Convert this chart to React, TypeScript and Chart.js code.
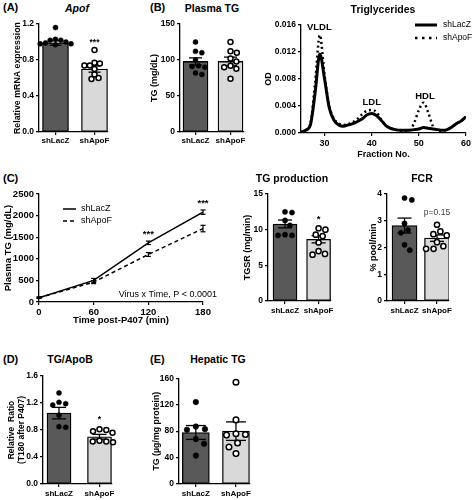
import React, { useEffect, useRef } from "react";
import { Chart, registerables } from "chart.js";
Chart.register(...registerables);

const FONT = "'Liberation Sans', Arial, Helvetica, sans-serif";
const DARK = "#595959";
const LIGHT = "#d9d9d9";

const groups = ["shLacZ", "shApoF"];

// (A) Apof mRNA
const apofMeans = [0.99, 0.7];
const apofSems = [0.025, 0.035];
const apofLacZ = [1.16, 1.03, 1.02, 1.02, 1.0, 0.99, 0.98, 0.98, 0.97];
const apofApoF = [0.91, 0.77, 0.76, 0.74, 0.74, 0.7, 0.64, 0.6, 0.59];

// (B) Plasma TG
const ptgMeans = [98, 98];
const ptgSems = [5, 6];
const ptgLacZ = [125, 112, 110, 100, 92, 91, 90, 82, 80];
const ptgApoF = [125, 112, 110, 102, 98, 92, 90, 88, 74];

// (B) Triglycerides FPLC
const fractions = [25, 26, 27, 28, 29, 30, 31, 32, 33, 34, 35, 36, 37, 38, 39, 40, 41, 42, 43, 44, 45, 46, 47, 48, 49, 50, 51, 52, 53, 54, 55, 56, 57, 58, 59, 60];
const fplcLacZ = [0.0001, 0.0004, 0.0012, 0.006, 0.0117, 0.008, 0.0037, 0.0019, 0.0012, 0.001, 0.0012, 0.0014, 0.0017, 0.0021, 0.0027, 0.0029, 0.0026, 0.0019, 0.0011, 0.0007, 0.0005, 0.0004, 0.0004, 0.0004, 0.0005, 0.0006, 0.0008, 0.0007, 0.0006, 0.0005, 0.0004, 0.0005, 0.0009, 0.0014, 0.0018, 0.0024];
const fplcApoF = [0.0001, 0.0004, 0.0014, 0.0075, 0.0145, 0.0085, 0.004, 0.0021, 0.0014, 0.0012, 0.0013, 0.0016, 0.0021, 0.0028, 0.0033, 0.0034, 0.0031, 0.002, 0.0011, 0.0007, 0.0005, 0.0003, 0.0002, 0.0003, 0.0015, 0.0034, 0.0045, 0.003, 0.001, 0.0004, 0.0003, 0.0005, 0.0009, 0.0014, 0.0018, 0.0024];

// (C) Plasma TG after P407
const timePoints = [0, 60, 120, 180];
const tgTimeLacZ = [100, 500, 1370, 2080];
const tgTimeLacZSem = [15, 45, 40, 50];
const tgTimeApoF = [100, 460, 1100, 1700];
const tgTimeApoFSem = [15, 35, 45, 75];

// TG production
const tgprodMeans = [10.8, 8.65];
const tgprodSems = [0.55, 0.5];
const tgprodLacZ = [12.5, 12.4, 11.3, 10.6, 9.3, 9.2, 9.2];
const tgprodApoF = [10.2, 10.0, 9.3, 9.1, 8.2, 7.0, 6.6, 6.5];

// FCR
const fcrMeans = [2.82, 2.35];
const fcrSems = [0.28, 0.12];
const fcrLacZ = [3.85, 3.78, 2.9, 2.65, 2.55, 2.1, 1.9];
const fcrApoF = [2.85, 2.6, 2.5, 2.45, 2.2, 2.05, 1.95, 1.95];

// (D) TG/ApoB
const tgapobMeans = [1.05, 0.7];
const tgapobSems = [0.085, 0.035];
const tgapobLacZ = [1.35, 1.21, 1.19, 1.17, 1.02, 0.85, 0.84];
const tgapobApoF = [0.81, 0.8, 0.78, 0.76, 0.64, 0.63, 0.63, 0.62];

// (E) Hepatic TG
const hepMeans = [78, 80];
const hepSems = [10.5, 14];
const hepLacZ = [124, 87, 83, 82, 68, 61, 43];
const hepApoF = [154, 97, 76, 75, 74, 62, 56, 46];

type Area = { L: number; T: number; R: number; B: number };
type Note = { text: string; x: number; y: number; size: number; weight?: string; color?: string; align?: CanvasTextAlign; dx?: number };

function swarm(values: number[], pxPerY: number, pxPerX: number, d: number): number[] {
  const placed: { x: number; y: number }[] = [];
  return values.map((v) => {
    const y = v * pxPerY;
    const cands = [0];
    placed.forEach((p) => {
      const dy = Math.abs(p.y - y);
      if (dy < d) {
        const dx = Math.sqrt(d * d - dy * dy) + 0.01;
        cands.push(p.x + dx, p.x - dx);
      }
    });
    cands.sort((a, b) => Math.abs(a) - Math.abs(b));
    let x = 0;
    for (const c of cands) {
      if (placed.every((p) => (p.x - c) ** 2 + (p.y - y) ** 2 >= d * d - 0.05)) {
        x = c;
        break;
      }
    }
    placed.push({ x, y });
    return x / pxPerX;
  });
}

function notesPlugin(items: Note[]) {
  return {
    id: "notes",
    afterDatasetsDraw(chart: any) {
      const ctx = chart.ctx;
      items.forEach((it) => {
        const px = chart.scales.x.getPixelForValue(it.x) + (it.dx || 0);
        const py = chart.scales.y.getPixelForValue(it.y);
        ctx.save();
        ctx.font = `${it.weight || "bold"} ${it.size}px ${FONT}`;
        ctx.fillStyle = it.color || "#000";
        ctx.textAlign = it.align || "center";
        ctx.textBaseline = "middle";
        ctx.fillText(it.text, px, py);
        ctx.restore();
      });
    },
  };
}

function legendPlugin(dx: number, dy: number, lineLen: number, gap: number, rowH: number, size: number, dashLen?: number[]) {
  return {
    id: "lineLegend",
    afterDraw(chart: any) {
      const ctx = chart.ctx;
      const { left, top } = chart.chartArea;
      chart.data.datasets
        .filter((ds: any) => ds.inLegend)
        .forEach((ds: any, i: number) => {
          const x0 = left + dx;
          const y = top + dy + i * rowH;
          ctx.save();
          ctx.strokeStyle = "#000";
          ctx.lineWidth = ds.borderWidth;
          ctx.setLineDash((dashLen && i > 0 ? dashLen : ds.borderDash) || []);
          ctx.beginPath();
          ctx.moveTo(x0, y);
          ctx.lineTo(x0 + lineLen, y);
          ctx.stroke();
          ctx.setLineDash([]);
          ctx.font = `normal ${size}px ${FONT}`;
          ctx.fillStyle = "#000";
          ctx.textBaseline = "middle";
          ctx.textAlign = "left";
          ctx.fillText(ds.label, x0 + lineLen + gap, y);
          ctx.restore();
        });
    },
  };
}

function axis(tickSize: number, extra: any = {}) {
  return {
    grid: { display: true, drawOnChartArea: false, drawTicks: true, tickLength: 3, color: "#000", lineWidth: 1.2 },
    border: { display: true, color: "#000", width: 1.3 },
    ...extra,
    ticks: { color: "#000", font: { family: FONT, size: tickSize, weight: "bold" }, padding: 2, autoSkip: false, maxRotation: 0, ...(extra.ticks || {}) },
  };
}

function axisTitle(text: string | string[], size: number) {
  return { display: true, text, color: "#000", font: { family: FONT, size, weight: "bold", lineHeight: 1.15 }, padding: 0 };
}

function errBar(x: number, m: number, s: number, cap: number, w = 1.3) {
  return {
    type: "line",
    data: [
      { x, y: m - s },
      { x, y: m + s },
    ],
    borderColor: "#000",
    borderWidth: w,
    pointStyle: "line",
    pointRadius: cap,
    pointHoverRadius: cap,
    pointBorderColor: "#000",
    pointBorderWidth: w,
    clip: false,
    order: 2,
  };
}

function ChartCanvas(props: { area: Area; yW: number; xH: number; padT?: number; padR?: number; make: () => any }) {
  const { area, yW, xH } = props;
  const padT = props.padT ?? 10;
  const padR = props.padR ?? 24;
  const ref = useRef<HTMLCanvasElement | null>(null);
  const left = area.L - yW;
  const top = area.T - padT;
  const width = area.R - area.L + yW + padR;
  const height = area.B - area.T + padT + xH;
  useEffect(() => {
    if (!ref.current) return;
    const cfg = props.make();
    cfg.options = cfg.options || {};
    Object.assign(cfg.options, {
      responsive: false,
      maintainAspectRatio: false,
      animation: false,
      devicePixelRatio: 1,
      events: [],
      layout: { padding: { left: 0, top: padT, right: padR, bottom: 0 } },
    });
    cfg.options.plugins = { ...(cfg.options.plugins || {}), legend: { display: false }, tooltip: { enabled: false }, title: { display: false } };
    cfg.options.scales.x.afterFit = (s: any) => {
      s.height = xH;
    };
    cfg.options.scales.y.afterFit = (s: any) => {
      s.width = yW;
    };
    const chart = new Chart(ref.current, cfg);
    return () => chart.destroy();
  }, []);
  return <canvas ref={ref} width={width} height={height} style={{ position: "absolute", left, top, width, height }} />;
}

type BarSpec = {
  area: Area;
  yW: number;
  xH: number;
  xMin: number;
  xMax: number;
  yMax: number;
  yStep: number;
  decimals: number;
  means: number[];
  sems: number[];
  pts: number[][];
  barW: number;
  cap: number;
  ptR: number;
  spread: number;
  yTitle: string | string[];
  yTitleSize: number;
  tickSize: number;
  catSize: number;
  catPad: number;
  notes: Note[];
};

function BarPanel({ spec }: { spec: BarSpec }) {
  const p = spec;
  const make = () => {
    const unit = (p.area.R - p.area.L) / (p.xMax - p.xMin);
    const pxY = (p.area.B - p.area.T) / p.yMax;
    const offs = p.pts.map((vals) => swarm(vals, pxY, unit, p.spread));
    const datasets: any[] = [
      {
        type: "bar",
        data: p.means.map((m, i) => ({ x: i, y: m })),
        backgroundColor: [DARK, LIGHT],
        borderColor: "#000",
        borderWidth: 1.3,
        borderSkipped: false,
        barThickness: p.barW,
        order: 3,
      },
    ];
    p.means.forEach((m, i) => datasets.push(errBar(i, m, p.sems[i], p.cap)));
    p.pts.forEach((vals, g) =>
      datasets.push({
        type: "scatter",
        data: vals.map((v, k) => ({ x: g + offs[g][k], y: v })),
        pointRadius: p.ptR,
        pointBackgroundColor: g === 0 ? "#000" : "#fff",
        pointBorderColor: "#000",
        pointBorderWidth: g === 0 ? 0.5 : 1.5,
        clip: false,
        order: 1,
      })
    );
    return {
      type: "bar",
      data: { datasets },
      plugins: [notesPlugin(p.notes)],
      options: {
        scales: {
          x: axis(p.catSize, {
            type: "linear",
            min: p.xMin,
            max: p.xMax,
            offset: false,
            grid: { display: true, drawOnChartArea: false, drawTicks: true, tickLength: 3, color: "#000", lineWidth: 1.2, offset: false },
            afterBuildTicks: (s: any) => {
              s.ticks = [{ value: 0 }, { value: 1 }];
            },
            ticks: { padding: p.catPad, callback: (v: number) => groups[v] },
          }),
          y: axis(p.tickSize, {
            min: 0,
            max: p.yMax,
            title: axisTitle(p.yTitle, p.yTitleSize),
            ticks: { stepSize: p.yStep, callback: (v: number) => v.toFixed(p.decimals) },
          }),
        },
      },
    };
  };
  return <ChartCanvas area={p.area} yW={p.yW} xH={p.xH} make={make} />;
}

function FplcPanel() {
  const make = () => ({
    type: "line",
    data: {
      datasets: [
        {
          label: "shLacZ",
          inLegend: true,
          data: fractions.map((f, i) => ({ x: f, y: fplcLacZ[i] })),
          borderColor: "#000",
          borderWidth: 3,
          pointRadius: 0,
          cubicInterpolationMode: "monotone",
        },
        {
          label: "shApoF",
          inLegend: true,
          data: fractions.map((f, i) => ({ x: f, y: fplcApoF[i] })),
          borderColor: "#000",
          borderWidth: 2.5,
          borderDash: [2, 3],
          pointRadius: 0,
          cubicInterpolationMode: "monotone",
        },
      ],
    },
    plugins: [
      notesPlugin([
        { text: "VLDL", x: 28.9, y: 0.0157, size: 9.5 },
        { text: "LDL", x: 40, y: 0.0046, size: 9.5 },
        { text: "HDL", x: 51.3, y: 0.0054, size: 9.5 },
      ]),
      legendPlugin(114, 0, 22, 6, 13, 8.5, [2.5, 4.5]),
    ],
    options: {
      scales: {
        x: axis(9, {
          type: "linear",
          min: 25,
          max: 60,
          afterBuildTicks: (s: any) => {
            s.ticks = s.ticks.filter((t: any) => t.value % 10 === 0);
          },
          ticks: { stepSize: 10 },
          title: axisTitle("Fraction No.", 9),
        }),
        y: axis(8.5, {
          min: 0,
          max: 0.016,
          ticks: { stepSize: 0.004, callback: (v: number) => v.toFixed(3) },
          title: axisTitle("OD", 9),
        }),
      },
    },
  });
  return <ChartCanvas area={{ L: 301, T: 25, R: 466, B: 133 }} yW={38} xH={27} padR={10} make={make} />;
}

function TimePanel() {
  const make = () => {
    const datasets: any[] = [
      {
        type: "line",
        label: "shLacZ",
        inLegend: true,
        data: timePoints.map((t, i) => ({ x: t, y: tgTimeLacZ[i] })),
        borderColor: "#000",
        borderWidth: 1.5,
        pointRadius: 0,
        order: 3,
      },
      {
        type: "line",
        label: "shApoF",
        inLegend: true,
        data: timePoints.map((t, i) => ({ x: t, y: tgTimeApoF[i] })),
        borderColor: "#000",
        borderWidth: 1.5,
        borderDash: [4, 3],
        pointRadius: 0,
        order: 3,
      },
    ];
    timePoints.forEach((t, i) => {
      datasets.push(errBar(t, tgTimeLacZ[i], tgTimeLacZSem[i], 2.5, 1.2));
      datasets.push(errBar(t, tgTimeApoF[i], tgTimeApoFSem[i], 2.5, 1.2));
    });
    return {
      type: "line",
      data: { datasets },
      plugins: [
        notesPlugin([
          { text: "***", x: 120, y: 1560, size: 9.5 },
          { text: "***", x: 180, y: 2280, size: 9.5 },
          { text: "Virus x Time, P < 0.0001", x: 180, y: 170, size: 9, weight: "normal", align: "right", dx: 14 },
        ]),
        legendPlugin(24, 15, 13, 5, 12, 9),
      ],
      options: {
        scales: {
          x: axis(9.5, {
            type: "linear",
            min: 0,
            max: 180,
            ticks: { stepSize: 60, callback: (v: number) => String(v) },
            title: axisTitle("Time post-P407 (min)", 9.5),
          }),
          y: axis(9.5, {
            min: 0,
            max: 2500,
            ticks: { stepSize: 500, callback: (v: number) => String(v) },
            title: axisTitle("Plasma TG (mg/dL)", 9.5),
          }),
        },
      },
    };
  };
  return <ChartCanvas area={{ L: 39, T: 194, R: 203, B: 302 }} yW={36} xH={24} padR={24} make={make} />;
}

const Label = ({ x, y, text, size, italic, left }: { x: number; y: number; text: string; size: number; italic?: boolean; left?: boolean }) => (
  <div
    style={{
      position: "absolute",
      left: x,
      top: y,
      transform: left ? "translate(0,-50%)" : "translate(-50%,-50%)",
      font: `${italic ? "italic " : ""}bold ${size}px ${FONT}`,
      whiteSpace: "nowrap",
      color: "#000",
      lineHeight: 1,
    }}
  >
    {text}
  </div>
);

const specA: BarSpec = {
  area: { L: 39, T: 24, R: 108, B: 132 },
  yW: 26, xH: 20, xMin: -0.423, xMax: 1.346, yMax: 1.2, yStep: 0.4, decimals: 1,
  means: apofMeans, sems: apofSems, pts: [apofLacZ, apofApoF],
  barW: 26, cap: 6, ptR: 2.5, spread: 5.4, yTitle: "Relative mRNA expression", yTitleSize: 8.8,
  tickSize: 8.5, catSize: 8, catPad: 1,
  notes: [{ text: "***", x: 1, y: 0.99, size: 8.5 }],
};
const specB: BarSpec = {
  area: { L: 180, T: 24, R: 244, B: 132 },
  yW: 31, xH: 20, xMin: -0.443, xMax: 1.386, yMax: 150, yStep: 50, decimals: 0,
  means: ptgMeans, sems: ptgSems, pts: [ptgLacZ, ptgApoF],
  barW: 25, cap: 6.5, ptR: 2.5, spread: 6.5, yTitle: "TG (mg/dL)", yTitleSize: 9,
  tickSize: 8.5, catSize: 8, catPad: 1,
  notes: [],
};
const specTGP: BarSpec = {
  area: { L: 268, T: 194, R: 331, B: 301 },
  yW: 26, xH: 20, xMin: -0.507, xMax: 1.37, yMax: 15, yStep: 5, decimals: 0,
  means: tgprodMeans, sems: tgprodSems, pts: [tgprodLacZ, tgprodApoF],
  barW: 24, cap: 7, ptR: 2.6, spread: 7, yTitle: "TGSR (mg/min)", yTitleSize: 9,
  tickSize: 8.5, catSize: 8, catPad: 2,
  notes: [{ text: "*", x: 1, y: 11.4, size: 9.5 }],
};
const specFCR: BarSpec = {
  area: { L: 387, T: 194, R: 449, B: 301 },
  yW: 19, xH: 20, xMin: -0.54, xMax: 1.37, yMax: 4, yStep: 1, decimals: 0,
  means: fcrMeans, sems: fcrSems, pts: [fcrLacZ, fcrApoF],
  barW: 25, cap: 7, ptR: 2.6, spread: 7.5, yTitle: "% pool/min", yTitleSize: 9,
  tickSize: 8.5, catSize: 8, catPad: 2,
  notes: [{ text: "p=0.15", x: 1, y: 3.3, size: 8.5, weight: "normal", color: "#444" }],
};
const specD: BarSpec = {
  area: { L: 43, T: 376, R: 112, B: 484 },
  yW: 36, xH: 16, xMin: -0.395, xMax: 1.309, yMax: 1.6, yStep: 0.4, decimals: 1,
  means: tgapobMeans, sems: tgapobSems, pts: [tgapobLacZ, tgapobApoF],
  barW: 24, cap: 7, ptR: 2.5, spread: 6.8, yTitle: ["Relative  Ratio", "(T180 after P407)"], yTitleSize: 8.5,
  tickSize: 8.5, catSize: 8, catPad: 2,
  notes: [{ text: "*", x: 1, y: 0.95, size: 8.5 }],
};
const specE: BarSpec = {
  area: { L: 179, T: 377, R: 250, B: 484 },
  yW: 27, xH: 16, xMin: -0.42, xMax: 1.35, yMax: 160, yStep: 40, decimals: 0,
  means: hepMeans, sems: hepSems, pts: [hepLacZ, hepApoF],
  barW: 27, cap: 10, ptR: 2.8, spread: 9.5, yTitle: "TG (µg/mg protein)", yTitleSize: 8.8,
  tickSize: 8.5, catSize: 8, catPad: 2,
  notes: [],
};

export default function App() {
  return (
    <div style={{ position: "absolute", left: 0, top: 0, width: 476, height: 500, overflow: "hidden", background: "#fff" }}>
      <BarPanel spec={specA} />
      <BarPanel spec={specB} />
      <FplcPanel />
      <TimePanel />
      <BarPanel spec={specTGP} />
      <BarPanel spec={specFCR} />
      <BarPanel spec={specD} />
      <BarPanel spec={specE} />
      <Label x={3} y={7} text="(A)" size={11} left />
      <Label x={77} y={8} text="Apof" size={10.5} italic />
      <Label x={150} y={7} text="(B)" size={11} left />
      <Label x={212} y={8} text="Plasma TG" size={10.5} />
      <Label x={383} y={9} text="Triglycerides" size={10.5} />
      <Label x={3} y={178} text="(C)" size={11} left />
      <Label x={292} y={178} text="TG production" size={10.5} />
      <Label x={422} y={178} text="FCR" size={10.5} />
      <Label x={3} y={359} text="(D)" size={11} left />
      <Label x={70} y={359} text="TG/ApoB" size={10.5} />
      <Label x={150} y={359} text="(E)" size={11} left />
      <Label x={218} y={359} text="Hepatic TG" size={10.5} />
    </div>
  );
}
